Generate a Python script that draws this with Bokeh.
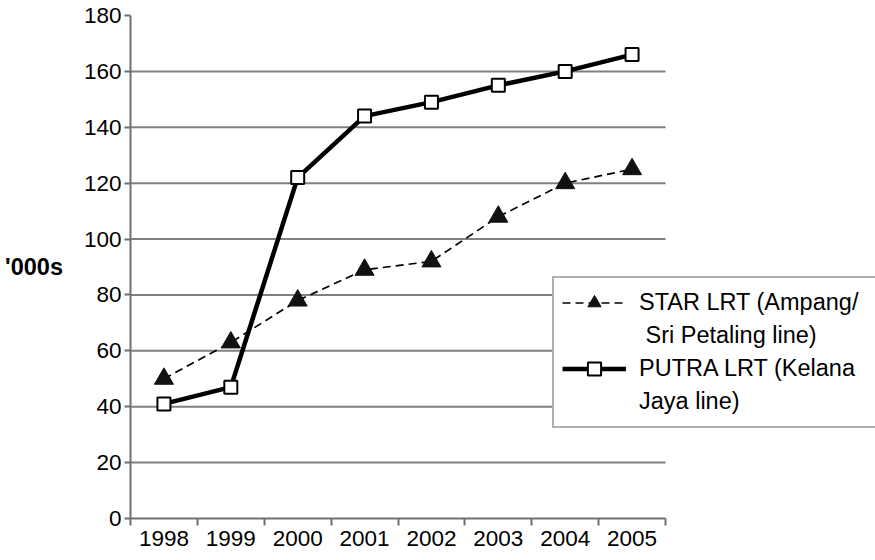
from bokeh.plotting import figure
from bokeh.models import Range1d, FixedTicker, Legend, LegendItem
from bokeh.embed import file_html
from bokeh.resources import INLINE

years = ["1998", "1999", "2000", "2001", "2002", "2003", "2004", "2005"]
star_lrt = [50, 63, 78, 89, 92, 108, 120, 125]
putra_lrt = [41, 47, 122, 144, 149, 155, 160, 166]
y_ticks = [0, 20, 40, 60, 80, 100, 120, 140, 160, 180]
grid_values = [20, 40, 60, 80, 100, 120, 140, 160]

n = len(years)
xs = [i + 0.5 for i in range(n)]
FONT = "Liberation Sans"

# the frame runs to the right edge so the legend is not clipped;
# the category axis itself covers the first 535 px of the 745 px frame
x_end = n * 745 / 535

p = figure(width=875, height=560, output_backend="svg", toolbar_location=None,
           x_range=Range1d(0, x_end), y_range=Range1d(0, 180),
           min_border_left=130, min_border_right=0, min_border_top=15, min_border_bottom=42)
p.outline_line_color = None
p.background_fill_color = "white"
p.border_fill_color = "white"

# x axis: labels at category centres, ticks at boundaries
p.xaxis.bounds = (0, n)
p.xaxis.ticker = FixedTicker(ticks=xs, minor_ticks=list(range(n + 1)))
p.xaxis.major_label_overrides = {x: y for x, y in zip(xs, years)}
p.xaxis.major_tick_out = 0
p.xaxis.major_tick_in = 0
p.xaxis.minor_tick_out = 7
p.xaxis.minor_tick_in = 0
p.xaxis.minor_tick_line_color = "#707070"
p.xaxis.minor_tick_line_width = 2
p.xaxis.axis_line_color = "#707070"
p.xaxis.axis_line_width = 2
p.xaxis.major_label_text_font = FONT
p.xaxis.major_label_text_font_size = "22.5px"
p.xaxis.major_label_text_color = "black"
p.xaxis.major_label_standoff = 5

p.yaxis.ticker = FixedTicker(ticks=y_ticks, minor_ticks=[])
p.yaxis.major_tick_out = 6
p.yaxis.major_tick_in = 0
p.yaxis.major_tick_line_color = "#707070"
p.yaxis.major_tick_line_width = 2
p.yaxis.axis_line_color = "#707070"
p.yaxis.axis_line_width = 2
p.yaxis.major_label_text_font = FONT
p.yaxis.major_label_text_font_size = "22.5px"
p.yaxis.major_label_text_color = "black"
p.yaxis.major_label_standoff = 3
p.yaxis.axis_label = "'000s"
p.yaxis.axis_label_orientation = "horizontal"
p.yaxis.axis_label_text_font = FONT
p.yaxis.axis_label_text_font_size = "23.5px"
p.yaxis.axis_label_text_font_style = "bold"
p.yaxis.axis_label_text_color = "black"
p.yaxis.axis_label_standoff = 18

p.xgrid.grid_line_color = None
p.ygrid.grid_line_color = None

# horizontal grid lines spanning only the category axis
p.segment(x0=[0] * len(grid_values), x1=[n] * len(grid_values),
          y0=grid_values, y1=grid_values, line_color="#808080", line_width=2)

star_line = p.line(xs, star_lrt, line_color="black", line_width=1.7, line_dash="8 5")
star_pts = p.scatter(xs, star_lrt, marker="triangle", size=19, fill_color="#111111",
                     line_color="#111111")
putra_line = p.line(xs, putra_lrt, line_color="black", line_width=4.5)
putra_pts = p.scatter(xs, putra_lrt, marker="square", size=13, fill_color="white",
                      line_color="black", line_width=2)
# invisible renderer used for the second line of each legend label
blank = p.line(xs, star_lrt, line_alpha=0)

legend = Legend(items=[
    LegendItem(label="STAR LRT (Ampang/", renderers=[star_line, star_pts]),
    LegendItem(label=" Sri Petaling line)", renderers=[blank]),
    LegendItem(label="PUTRA LRT (Kelana", renderers=[putra_line, putra_pts]),
    LegendItem(label="Jaya line)", renderers=[blank]),
], location=(422, 90))
legend.glyph_width = 64
legend.glyph_height = 33
legend.label_height = 33
legend.label_width = 240
legend.label_standoff = 13
legend.padding = 8
legend.spacing = 0
legend.margin = 0
legend.border_line_color = "#606060"
legend.border_line_width = 2
legend.background_fill_color = "white"
legend.background_fill_alpha = 1
legend.label_text_font = FONT
legend.label_text_font_size = "23.5px"
legend.label_text_color = "black"
p.add_layout(legend)

open("out.html", "w").write(file_html(p, INLINE))
